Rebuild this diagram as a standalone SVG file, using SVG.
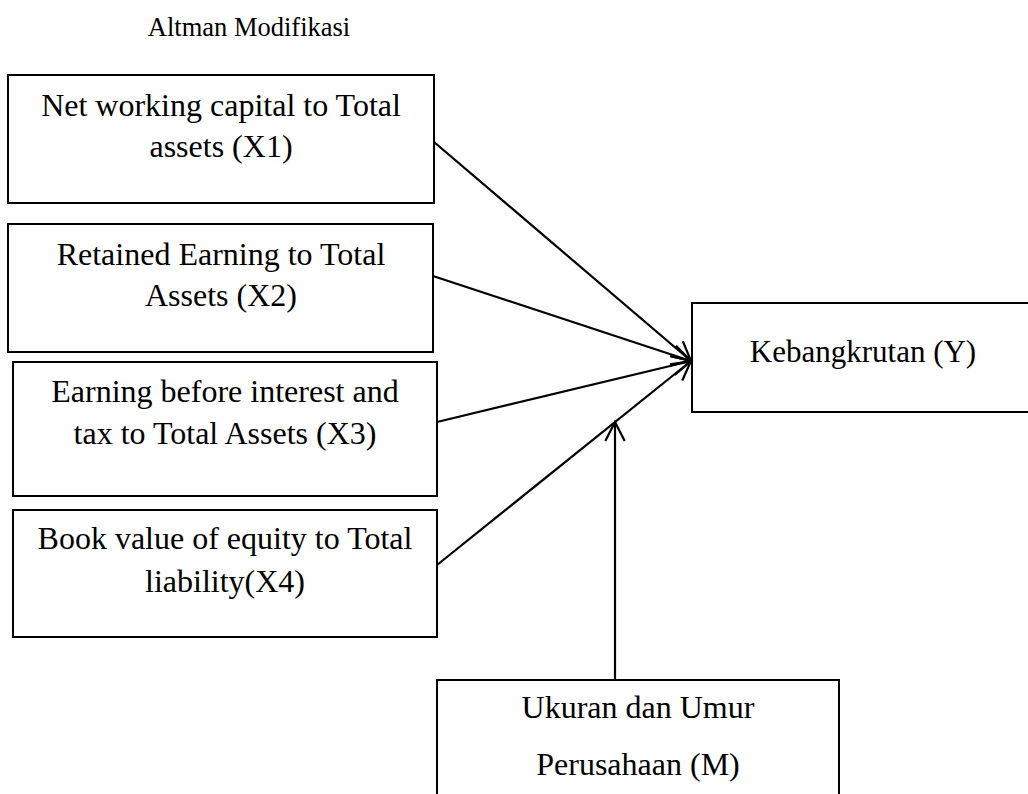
<svg xmlns="http://www.w3.org/2000/svg" width="1028" height="794" viewBox="0 0 1028 794">
<style>
.box{fill:#fff;stroke:#000;stroke-width:2}
.t{font-family:"Liberation Serif","Times New Roman",serif;font-size:32px;fill:#000;text-anchor:middle}
.ty{font-family:"Liberation Serif","Times New Roman",serif;font-size:31px;fill:#000;text-anchor:middle}
.title{font-family:"Liberation Serif","Times New Roman",serif;font-size:26.5px;fill:#000;text-anchor:middle}
.c{stroke:#000;stroke-width:2.2;fill:none}
</style>
<defs>
<marker id="arr" markerUnits="userSpaceOnUse" markerWidth="30" markerHeight="30" refX="0" refY="0" orient="auto" overflow="visible">
<path d="M -19 -9.7 L 0 0 L -19 9.7" fill="none" stroke="#000" stroke-width="2.2"/>
</marker>
</defs>
<rect width="1028" height="794" fill="#fff"/>
<text class="title" x="249" y="36">Altman Modifikasi</text>
<g id="x1"><rect class="box" x="8" y="75" width="426" height="128"/><text class="t" x="221" y="116">Net working capital to Total</text><text class="t" x="221" y="157">assets (X1)</text></g>
<g id="x2"><rect class="box" x="8" y="224" width="425" height="128"/><text class="t" x="221" y="265">Retained Earning to Total</text><text class="t" x="221" y="306">Assets (X2)</text></g>
<g id="x3"><rect class="box" x="13" y="362" width="424" height="134"/><text class="t" x="225" y="402">Earning before interest and</text><text class="t" x="225" y="444">tax to Total Assets (X3)</text></g>
<g id="x4"><rect class="box" x="13" y="510" width="424" height="127"/><text class="t" x="225" y="549">Book value of equity to Total</text><text class="t" x="225" y="592">liability(X4)</text></g>
<g id="y"><rect class="box" x="692" y="303" width="342" height="109"/><text class="ty" x="863" y="362">Kebangkrutan (Y)</text></g>
<g id="m"><rect class="box" x="437" y="680" width="402" height="130"/><text class="t" x="638" y="718">Ukuran dan Umur</text><text class="t" x="638" y="775">Perusahaan (M)</text></g>
<g id="connectors">
<line class="c" x1="434" y1="142" x2="691" y2="361" marker-end="url(#arr)"/>
<line class="c" x1="433" y1="276" x2="691" y2="361" marker-end="url(#arr)"/>
<line class="c" x1="437" y1="422" x2="691" y2="361" marker-end="url(#arr)"/>
<line class="c" x1="437" y1="565" x2="691" y2="361" marker-end="url(#arr)"/>
<line class="c" x1="615" y1="680" x2="615" y2="422" marker-end="url(#arr)"/>
</g>
</svg>
